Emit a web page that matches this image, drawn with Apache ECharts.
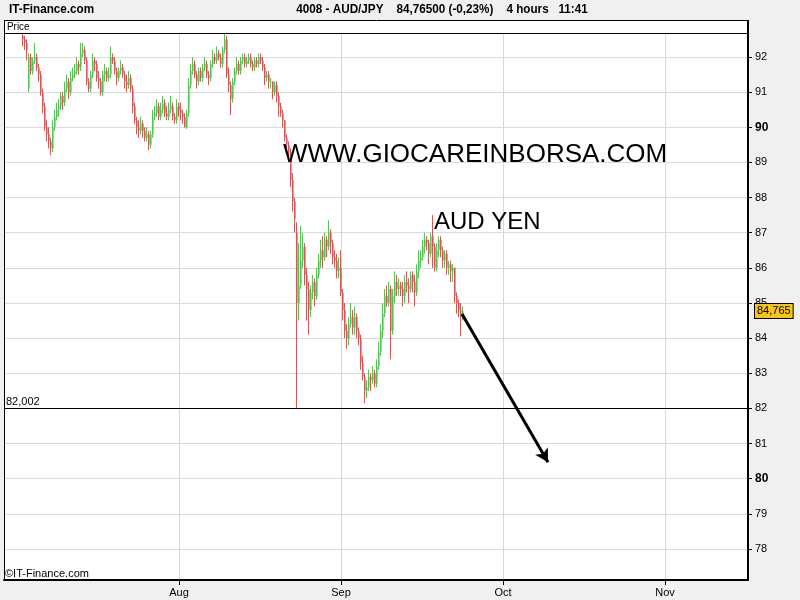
<!DOCTYPE html>
<html>
<head>
<meta charset="utf-8">
<script src="https://cdn.jsdelivr.net/npm/echarts@6/dist/echarts.min.js"></script>
<style>
html,body{margin:0;padding:0;background:#f0f0f0;}
#chart{width:800px;height:600px;}
</style>
</head>
<body>
<div id="chart"></div>
<script>
// ---- data ----
const monthLabels = ['Aug', 'Sep', 'Oct', 'Nov'];
const monthSlots = [87.5, 168.5, 249.5, 330.5];
const yTicks = [78, 79, 80, 81, 82, 83, 84, 85, 86, 87, 88, 89, 90, 91, 92];
const slotCount = 373;
const firstBarSlot = 9;

const opens = [
92.6,92.5,92.4,91.1,92.0,91.6,91.9,92.0,91.7,91.5,
91.0,90.6,90.0,89.8,89.6,89.4,90.0,90.3,90.5,90.6,
90.9,90.7,91.1,91.3,91.0,91.4,91.5,91.6,91.8,91.7,
92.1,92.2,91.9,91.3,91.1,91.5,91.9,91.8,91.4,91.3,
91.0,91.5,91.6,91.4,91.5,92.0,91.9,91.6,91.4,91.6,
91.7,91.5,91.3,91.2,91.4,91.1,90.6,90.2,90.0,89.9,
90.1,89.9,89.7,89.8,89.5,89.8,90.3,90.4,90.6,90.3,
90.5,90.7,90.4,90.3,90.5,90.6,90.3,90.2,90.6,90.5,
90.4,90.3,90.0,90.4,91.2,91.6,91.8,91.5,91.3,91.6,
91.4,91.7,91.8,91.5,91.4,91.8,92.0,91.9,92.1,92.0,
91.8,92.2,92.5,91.5,91.2,90.8,91.3,91.6,91.8,91.6,
91.9,92.0,91.8,91.9,92.0,91.8,91.7,91.9,91.8,92.0,
91.9,91.7,91.4,91.5,91.3,91.3,91.0,91.2,90.9,90.6,
90.4,90.2,89.7,89.5,89.3,88.5,87.9,87.0,85.0,85.5,
86.2,86.6,85.8,85.4,84.8,85.3,85.6,85.2,85.8,86.2,
86.5,86.3,86.8,86.6,87.0,86.7,86.3,86.2,85.9,86.0,
85.3,84.8,84.2,84.0,84.4,84.6,84.3,84.6,84.2,84.0,
83.3,82.9,82.5,82.6,82.9,82.8,83.0,82.7,83.2,83.6,
84.2,84.7,85.2,85.0,85.4,84.2,85.2,85.6,85.4,85.5,
85.4,85.2,85.6,85.5,85.4,85.8,85.6,85.3,85.9,86.2,
86.3,86.6,86.8,86.7,86.4,86.9,86.6,86.0,86.5,86.8,
86.5,86.2,86.4,86.0,86.1,85.9,86.0,85.2,85.0,84.8,
84.6];
const closes = [
92.5,92.4,92.2,92.0,91.6,91.9,92.0,91.7,91.5,91.0,
90.6,90.0,89.8,89.6,89.4,90.0,90.3,90.5,90.6,90.9,
90.7,91.1,91.3,91.0,91.4,91.5,91.6,91.8,91.7,92.1,
92.2,91.9,91.3,91.1,91.5,91.9,91.8,91.4,91.3,91.0,
91.5,91.6,91.4,91.5,92.0,91.9,91.6,91.4,91.6,91.7,
91.5,91.3,91.2,91.4,91.1,90.6,90.2,90.0,89.9,90.1,
89.9,89.7,89.8,89.5,89.8,90.3,90.4,90.6,90.3,90.5,
90.7,90.4,90.3,90.5,90.6,90.3,90.2,90.6,90.5,90.4,
90.3,90.0,90.4,91.2,91.6,91.8,91.5,91.3,91.6,91.4,
91.7,91.8,91.5,91.4,91.8,92.0,91.9,92.1,92.0,91.8,
92.2,92.5,91.5,91.2,90.8,91.3,91.6,91.8,91.6,91.9,
92.0,91.8,91.9,92.0,91.8,91.7,91.9,91.8,92.0,91.9,
91.7,91.4,91.5,91.3,91.3,91.0,91.2,90.9,90.6,90.4,
90.2,89.7,89.5,89.3,88.5,87.9,87.4,85.0,85.5,86.2,
86.6,85.8,85.4,84.8,85.3,85.6,85.2,85.8,86.2,86.5,
86.3,86.8,86.6,87.0,86.7,86.3,86.2,85.9,86.0,85.3,
84.8,84.2,84.0,84.4,84.6,84.3,84.6,84.2,84.0,83.3,
82.9,82.5,82.6,82.9,82.8,83.0,82.7,83.2,83.6,84.2,
84.7,85.2,85.0,85.4,84.2,85.2,85.6,85.4,85.5,85.4,
85.2,85.6,85.5,85.4,85.8,85.6,85.3,85.9,86.2,86.3,
86.6,86.8,86.7,86.4,86.9,86.6,86.0,86.5,86.8,86.5,
86.2,86.4,86.0,86.1,85.9,86.0,85.2,85.0,84.8,84.6,
84.765];
const highs = [
92.7,92.6,92.5,92.1,92.1,92.0,92.4,92.1,91.8,91.6,
91.1,90.7,90.2,90.0,89.7,90.2,90.5,90.7,90.8,91.0,
91.0,91.3,91.5,91.4,91.6,91.7,91.8,92.0,91.9,92.4,
92.4,92.3,92.0,91.4,91.6,92.1,92.0,91.9,91.6,91.4,
91.6,91.8,91.7,91.7,92.3,92.1,92.0,91.7,91.7,91.9,
91.8,91.6,91.5,91.6,91.5,91.2,90.7,90.3,90.2,90.3,
90.2,90.0,90.0,89.9,89.9,90.5,90.6,90.8,90.7,90.7,
90.9,90.8,90.6,90.7,90.9,90.7,90.4,90.8,90.7,90.7,
90.5,90.4,90.5,91.4,91.8,92.0,91.9,91.6,91.7,91.7,
91.8,92.0,91.9,91.6,91.9,92.2,92.1,92.3,92.2,92.1,
92.3,92.68,92.6,91.7,91.3,91.4,91.7,92.0,91.9,92.0,
92.1,92.1,92.0,92.1,92.1,91.9,92.0,92.0,92.1,92.1,
92.0,91.8,91.6,91.6,91.4,91.3,91.3,91.3,91.0,90.7,
90.5,90.2,89.8,89.6,89.4,88.7,88.0,87.3,86.7,87.2,
87.0,86.7,86.0,85.6,85.5,85.8,85.7,86.0,86.4,86.8,
86.9,87.0,86.9,87.35,87.1,86.8,86.5,86.4,86.3,86.5,
85.4,85.0,84.4,84.6,85.0,84.8,84.9,84.7,84.3,84.1,
83.5,83.0,82.8,83.1,83.0,83.2,83.1,83.4,83.9,84.4,
85.0,85.4,85.5,85.6,85.5,85.4,85.9,85.8,85.7,85.6,
85.6,85.8,85.9,85.7,85.9,85.9,85.8,86.1,86.5,86.5,
86.8,87.0,86.9,86.8,87.0,87.5,86.7,86.7,86.9,86.9,
86.6,86.5,86.5,86.2,86.2,86.1,86.0,85.3,85.1,85.0,
84.9];
const lows = [
92.3,92.2,91.9,91.0,91.5,91.5,91.8,91.6,91.3,90.9,
90.4,89.9,89.6,89.4,89.2,89.3,89.9,90.2,90.3,90.5,
90.5,90.6,91.0,90.8,90.9,91.3,91.4,91.5,91.5,91.6,
92.0,91.8,91.2,91.0,91.0,91.4,91.6,91.3,91.1,90.9,
90.9,91.3,91.3,91.3,91.4,91.8,91.5,91.2,91.3,91.5,
91.4,91.1,91.0,91.1,91.0,90.4,90.1,89.8,89.7,89.8,
89.7,89.6,89.6,89.35,89.4,89.7,90.2,90.3,90.2,90.2,
90.4,90.3,90.2,90.2,90.4,90.2,90.1,90.1,90.3,90.2,
90.1,90.0,89.95,90.3,91.1,91.5,91.4,91.1,91.2,91.3,
91.3,91.6,91.4,91.2,91.3,91.7,91.8,91.8,91.9,91.7,
91.7,92.1,91.4,91.0,90.35,90.7,91.2,91.5,91.5,91.5,
91.8,91.7,91.7,91.8,91.7,91.6,91.6,91.7,91.7,91.8,
91.6,91.2,91.3,91.1,91.1,90.8,90.9,90.7,90.3,90.3,
90.0,89.6,89.4,89.0,88.3,87.6,87.0,82.002,84.5,85.4,
86.0,85.5,84.5,84.1,84.6,85.1,84.9,85.1,85.7,86.0,
86.0,86.2,86.3,86.5,86.4,86.1,86.0,85.7,85.7,85.2,
84.5,84.0,83.7,83.8,84.3,84.1,84.1,84.0,83.8,83.1,
82.8,82.15,82.3,82.5,82.5,82.7,82.6,82.6,83.1,83.5,
84.0,84.6,84.9,84.9,83.4,84.1,85.0,85.2,85.2,85.2,
84.9,85.0,85.3,85.0,85.3,85.3,84.9,85.2,85.7,86.0,
86.2,86.4,86.5,86.1,86.3,86.0,85.9,85.9,86.3,86.3,
86.0,86.0,85.8,85.8,85.6,85.6,85.0,84.7,84.6,84.05,
84.5];

const lowestPrice = 82.002;
const lastPrice = 84.765;
const arrowFrom = [229, 84.69];
const arrowTo = [272, 80.47];

// ---- build options ----
const rows = closes.map((c, i) => [firstBarSlot + i, opens[i], c, lows[i], highs[i]]);

const FONT = '"Liberation Sans", Arial, sans-serif';
const UP = '#55c455';
const DOWN = '#d45858';

function renderBar(params, api) {
  const x = api.value(0), o = api.value(1), c = api.value(2), l = api.value(3), h = api.value(4);
  const pH = api.coord([x, h]), pL = api.coord([x, l]);
  const pO = api.coord([x, o]), pC = api.coord([x, c]);
  const color = c >= o ? UP : DOWN;
  const cx = Math.round(pH[0]) + 0.5;
  const top = Math.min(pO[1], pC[1]);
  const hgt = Math.max(1, Math.abs(pO[1] - pC[1]));
  return {
    type: 'group',
    children: [
      {type: 'line', shape: {x1: cx, y1: pH[1], x2: cx, y2: pL[1]}, style: {stroke: color, lineWidth: 1}},
      {type: 'rect', shape: {x: cx - 0.5, y: top, width: 1.6, height: hgt}, style: {fill: color}}
    ]
  };
}

const chart = echarts.init(document.getElementById('chart'), null, {renderer: 'canvas'});
chart.setOption({
  animation: false,
  backgroundColor: '#f0f0f0',
  dataset: {dimensions: ['slot', 'open', 'close', 'low', 'high'], source: rows},
  grid: {left: 4, top: 33, right: 52, bottom: 20, show: true, backgroundColor: '#ffffff', borderWidth: 0},
  xAxis: {
    type: 'value',
    min: 0,
    max: slotCount - 1,
    axisLine: {onZero: false, lineStyle: {color: '#000', width: 2}},
    axisTick: {customValues: monthSlots, length: 5, lineStyle: {color: '#000'}},
    axisLabel: {customValues: monthSlots, color: '#000', fontSize: 11, fontFamily: FONT, margin: 7,
      formatter: v => monthLabels[monthSlots.indexOf(v)] || ''},
    splitLine: {show: true, lineStyle: {color: '#d8d8d8'}}
  },
  yAxis: {
    type: 'value',
    position: 'right',
    min: 77.118,
    max: 92.683,
    axisLine: {show: true, onZero: false, lineStyle: {color: '#000', width: 2}},
    axisTick: {show: true, customValues: yTicks, length: 4, lineStyle: {color: '#000'}},
    axisLabel: {
      customValues: yTicks, color: '#000', fontSize: 11, fontFamily: FONT, margin: 7,
      formatter: v => (v % 10 === 0 ? '{b|' + v + '}' : String(v)),
      rich: {b: {fontWeight: 'bold', fontSize: 12, fontFamily: FONT, color: '#000'}}
    },
    splitLine: {show: true, lineStyle: {color: '#dcdcdc'}}
  },
  series: [{
    type: 'custom',
    renderItem: renderBar,
    encode: {x: 'slot', y: ['open', 'close', 'low', 'high']},
    clip: true,
    markLine: {
      silent: true,
      symbol: ['none', 'none'],
      data: [
        {yAxis: lowestPrice, lineStyle: {color: '#000', width: 1, type: 'solid'},
         label: {show: true, position: 'insideStartTop', formatter: '82,002', color: '#000', fontSize: 11, fontFamily: FONT, distance: [2, 1]}},
        {yAxis: lastPrice, lineStyle: {color: 'rgba(0,0,0,0)', width: 0},
         label: {show: true, position: 'end', formatter: '84,765', color: '#000', fontSize: 11, fontFamily: FONT,
                 backgroundColor: '#f7c41a', borderColor: '#000', borderWidth: 1, padding: [2, 2, 1, 2], distance: 7}},
        [
          {coord: arrowFrom, symbol: 'none', lineStyle: {color: '#000', width: 3, type: 'solid'}},
          {coord: arrowTo, symbol: 'arrow', symbolSize: [11, 13]}
        ]
      ]
    }
  }],
  graphic: [
    {type: 'rect', shape: {x: 4, y: 20, width: 744, height: 13}, style: {fill: '#fff'}, z: 0},
    {type: 'line', shape: {x1: 4, y1: 20.5, x2: 749, y2: 20.5}, style: {stroke: '#000', lineWidth: 1}, z: 10},
    {type: 'line', shape: {x1: 4, y1: 33.5, x2: 748, y2: 33.5}, style: {stroke: '#000', lineWidth: 1}, z: 10},
    {type: 'line', shape: {x1: 4.5, y1: 20, x2: 4.5, y2: 581}, style: {stroke: '#000', lineWidth: 1}, z: 10},
    {type: 'line', shape: {x1: 748, y1: 20, x2: 748, y2: 34}, style: {stroke: '#000', lineWidth: 2}, z: 10},
    {type: 'text', x: 7, y: 27, scaleX: 0.9, style: {text: 'Price', fill: '#000', font: '11px ' + FONT, verticalAlign: 'middle'}, z: 20},
    {type: 'text', x: 9, y: 9, scaleX: 0.9, style: {text: 'IT-Finance.com', fill: '#000', font: 'bold 13px ' + FONT, verticalAlign: 'middle'}, z: 20},
    {type: 'text', x: 442, y: 9, scaleX: 0.9, style: {text: '4008 - AUD/JPY    84,76500 (-0,23%)    4 hours   11:41', fill: '#000', font: 'bold 13px ' + FONT, align: 'center', verticalAlign: 'middle'}, z: 20},
    {type: 'text', x: 5, y: 574, style: {text: '\u00A9IT-Finance.com', fill: '#000', font: '11px ' + FONT, verticalAlign: 'middle'}, z: 20},
    {type: 'text', x: 283, y: 155, style: {text: 'WWW.GIOCAREINBORSA.COM', fill: '#000', font: '26px ' + FONT, verticalAlign: 'middle'}, z: 20},
    {type: 'text', x: 434, y: 222, style: {text: 'AUD YEN', fill: '#000', font: '24px ' + FONT, verticalAlign: 'middle'}, z: 20}
  ]
});
</script>
</body>
</html>
